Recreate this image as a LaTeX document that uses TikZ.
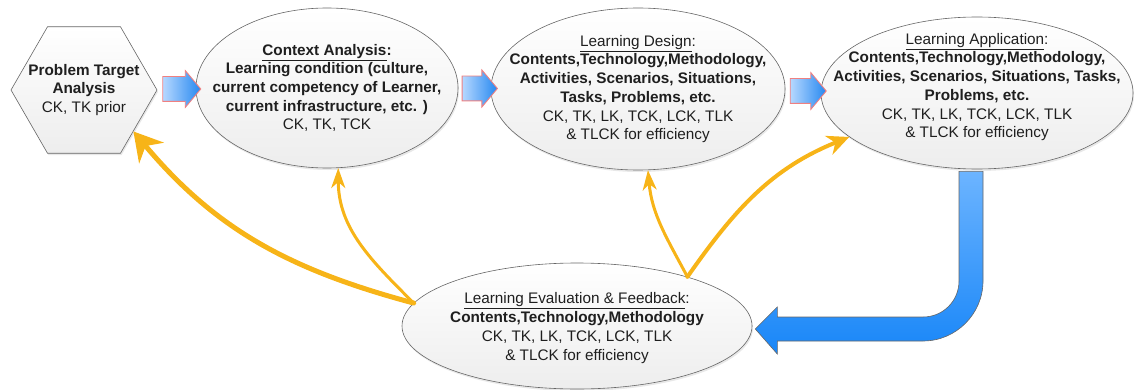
\documentclass[tikz,border=0pt]{standalone}
\usepackage{fontspec}
\setmainfont{Liberation Sans}
\usetikzlibrary{shapes.geometric}
\usetikzlibrary{shapes.arrows}
\usetikzlibrary{arrows.meta}
\usetikzlibrary{calc}
\usetikzlibrary{shadows}
\definecolor{fb_orange}{RGB}{247,180,24}
\definecolor{step_light}{RGB}{182,216,255}
\definecolor{step_dark}{RGB}{38,136,240}
\definecolor{step_rim}{RGB}{240,128,128}
\definecolor{loop_top}{RGB}{108,180,255}
\definecolor{loop_bot}{RGB}{24,134,248}
\tikzset{
	stage/.style = {ellipse, draw=black!60, line width=0.6pt, inner sep=0pt,
		top color=white, bottom color=black!7,
		drop shadow={opacity=0.18, shadow xshift=1pt, shadow yshift=-2pt}},% etape du cycle
	stage_hex/.style = {stage, regular polygon, regular polygon sides=6,
		minimum size=146pt},% etape de depart
	stage_txt/.style = {align=center, inner sep=0pt, text=black!88,
		font=\fontsize{15.3}{18.7}\selectfont},% texte d'une etape
	flow_arr/.style = {single arrow, inner sep=12pt, single arrow head extend=6pt,
		single arrow tip angle=100, left color=step_light, right color=step_dark,
		draw=step_rim, line width=0.9pt},% fleche entre deux etapes
	fb_arr/.style = {draw=fb_orange, line width=#1, line cap=round},% retour orange
	loop_arr/.style = {top color=loop_top, bottom color=loop_bot, draw=black!60,
		line width=0.6pt}% retour bleu
}
\begin{document}
\begin{tikzpicture}[x=1pt, y=1pt]
	\useasboundingbox (0,0) rectangle (1134,389);
	% etapes
	\node [stage_hex] (hex) at (84,299) {};
	\node [stage, minimum width=262pt, minimum height=160pt] (ctx) at (327,301) {};
	\node [stage, minimum width=294pt, minimum height=162pt] (des) at (638,300) {};
	\node [stage, minimum width=312pt, minimum height=152pt] (app) at (977,296) {};
	\node [stage, minimum width=350pt, minimum height=126pt] (eval) at (577,63) {};
	% textes
	\node [stage_txt] (hex_txt) at (hex) {\textbf{Problem Target}\\ \textbf{Analysis}\\ CK, TK prior};
	\node [stage_txt] (ctx_txt) at (ctx) {\textbf{\underline{Context Analysis}:}\\
		\textbf{Learning condition (culture,}\\ \textbf{current competency of Learner,}\\
		\textbf{current infrastructure, etc. )}\\ CK, TK, TCK};
	\node [stage_txt] (des_txt) at (des) {\underline{Learning Design}:\\
		\textbf{Contents,Technology,Methodology,}\\ \textbf{Activities, Scenarios, Situations,}\\
		\textbf{Tasks, Problems, etc.}\\ CK, TK, LK, TCK, LCK, TLK\\ \& TLCK for efficiency};
	\node [stage_txt] (app_txt) at ($(app)+(0,6)$) {\underline{Learning Application}:\\
		\textbf{Contents,Technology,Methodology,}\\ \textbf{Activities, Scenarios, Situations, Tasks,}\\
		\textbf{Problems, etc.}\\ CK, TK, LK, TCK, LCK, TLK\\ \& TLCK for efficiency};
	\node [stage_txt] (eval_txt) at ($(eval)+(0,-2)$) {\underline{Learning Evaluation \& Feedback}:\\
		\textbf{Contents,Technology,Methodology}\\ CK, TK, LK, TCK, LCK, TLK\\ \& TLCK for efficiency};
	% fleches entre etapes
	\node [flow_arr, minimum height=38pt] (hex_ctx) at ($(hex.east)!0.5!(ctx.west)$) {};
	\node [flow_arr, minimum height=33pt] (ctx_des) at ($(ctx.east)!0.5!(des.west)$) {};
	\node [flow_arr, minimum height=36pt] (des_app) at ($(des.east)!0.5!(app.west)$) {};
	% retours orange
	\draw [fb_arr=5pt, -{Stealth[length=28pt, width=32pt, inset=9pt]}]
		(eval.172) to[out=165, in=-50] (hex.-40);
	\draw [fb_arr=3pt, -{Stealth[length=20pt, width=14pt, inset=6pt]}]
		(eval.172) to[out=135, in=-90] (ctx.-82);
	\draw [fb_arr=3pt, -{Stealth[length=20pt, width=14pt, inset=6pt]}]
		(eval.24) to[out=118, in=-85] (des.-83);
	\draw [fb_arr=4pt, -{Stealth[length=22pt, width=20pt, inset=7pt]}]
		(eval.24) to[out=55, in=202] (app.199);
	% retour bleu vers l'evaluation
	\coordinate (lp_top) at ($(app.south)+(-6,-2)$);
	\coordinate (lp_tip) at ($(eval.east)+(3,-3)$);
	\coordinate (lp_bend) at (lp_top |- lp_tip);
	\path [loop_arr] ($(lp_top)+(-12,0)$) -- ($(lp_top)+(12,0)$) -- ($(lp_bend)+(12,48)$)
		.. controls +(0,-33) and +(33,0) .. ($(lp_bend)+(-48,-12)$)
		-- ($(lp_tip)+(22,-12)$) -- ($(lp_tip)+(22,-25)$) -- (lp_tip)
		-- ($(lp_tip)+(22,22)$) -- ($(lp_tip)+(22,12)$) -- ($(lp_bend)+(-48,12)$)
		.. controls +(20,0) and +(0,-20) .. ($(lp_bend)+(-12,48)$) -- cycle;
\end{tikzpicture}
\end{document}
